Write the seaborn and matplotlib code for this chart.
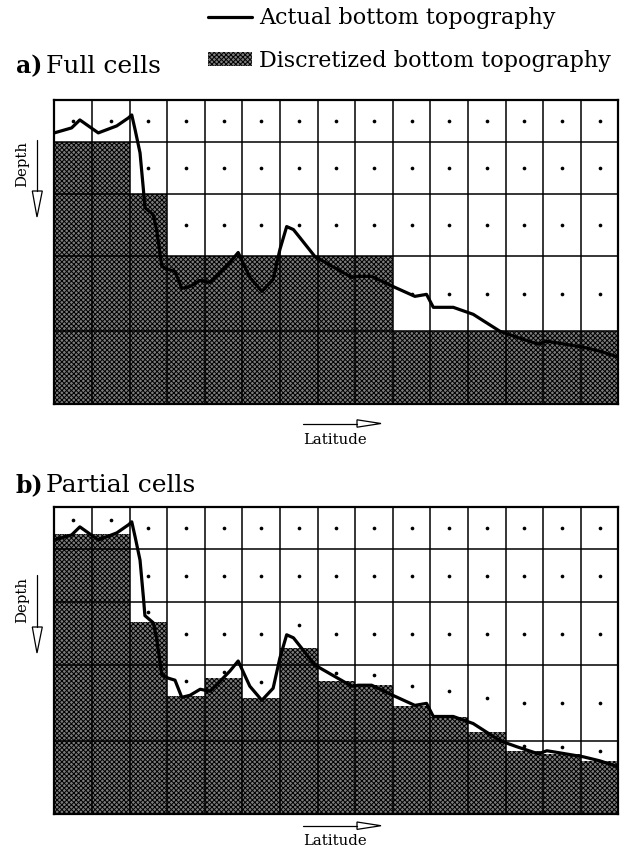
import numpy as np
import matplotlib
matplotlib.use("Agg")
import matplotlib.pyplot as plt
import seaborn as sns
from matplotlib.lines import Line2D
from matplotlib.patches import Patch, Polygon

# ---------------- data ----------------
n_cols = 15
level_edges = [0, 42, 94.5, 157, 232, 305]          # model level interfaces (depth units)
full_levels = [1, 1, 2, 3, 3, 3, 3, 3, 3, 4, 4, 4, 4, 4, 4]   # wet levels per column (full cells)
partial_depth = [27, 27, 114, 188, 170, 190, 140, 173, 177, 198, 209, 223, 242, 245, 252]
topo_x = [0.00, 0.46, 0.68, 1.17, 1.66, 1.97, 2.06, 2.15, 2.28, 2.37, 2.41, 2.63, 2.72,
          2.86, 3.03, 3.21, 3.39, 3.61, 3.88, 4.14, 4.41, 4.67, 4.89, 4.94, 5.20, 5.52,
          5.82, 6.00, 6.18, 6.36, 6.53, 6.93, 7.91, 8.09, 8.44, 9.06, 9.59, 9.90, 10.08,
          10.61, 11.14, 11.85, 12.30, 12.87, 13.10, 13.27, 14.07, 14.51, 15.00]
topo_depth = [33, 28, 20, 33, 26, 18, 15, 30, 53, 90, 108, 115, 130,
              167, 170, 172, 189, 187, 181, 183, 173, 163, 153, 157, 178, 192,
              180, 150, 127, 130, 138, 157, 178, 177, 177, 188, 197, 195, 208,
              208, 215, 232, 238, 245, 242, 243, 248, 252, 258]
panel_titles = ["a)", "b)"]
panel_names = ["Full cells", "Partial cells"]
legend_labels = ["Actual bottom topography", "Discretized bottom topography"]
x_label = "Latitude"
y_label = "Depth"

# ---------------- style ----------------
sns.set_theme(style="white")
plt.rcParams["font.family"] = ["DejaVu Serif", "Liberation Serif"]
plt.rcParams["text.color"] = "black"
plt.rcParams["hatch.color"] = "black"
plt.rcParams["hatch.linewidth"] = 0.7

LAND = "#7c7c7c"
HATCH = "xxxxxxx"
W, H = 621, 848
fig = plt.figure(figsize=(W / 100, H / 100), dpi=100)


def rect(x0, y0, x1, y1):
    return [x0 / W, 1 - y1 / H, (x1 - x0) / W, (y1 - y0) / H]


def fx(x):
    return x / W


def fy(y):
    return 1 - y / H


def draw_panel(ax, depth):
    total = level_edges[-1]
    cols = np.arange(n_cols)
    ax.bar(cols, [total - d for d in depth], bottom=depth, width=1.0, align="edge",
           color=LAND, hatch=HATCH, edgecolor="black", linewidth=0, zorder=1)
    ax.vlines(np.arange(n_cols + 1), 0, total, color="black", lw=1.1, zorder=3)
    ax.hlines(level_edges, 0, n_cols, color="black", lw=1.1, zorder=3)
    xs, ys = [], []
    for c in range(n_cols):
        for k in range(len(level_edges) - 1):
            top, bot = level_edges[k], level_edges[k + 1]
            if top < depth[c]:
                xs.append(c + 0.5)
                ys.append((top + min(bot, depth[c])) / 2)
    sns.scatterplot(x=xs, y=ys, ax=ax, color="black", s=7, linewidth=0, zorder=4)
    sns.lineplot(x=topo_x, y=topo_depth, ax=ax, sort=False, estimator=None,
                 color="black", lw=2.3, zorder=5)
    ax.set_xlim(0, n_cols)
    ax.set_ylim(total, 0)
    ax.set_xticks([])
    ax.set_yticks([])
    ax.set_xlabel("")
    ax.set_ylabel("")
    for s in ax.spines.values():
        s.set_visible(True)
        s.set_color("black")
        s.set_linewidth(1.6)
        s.set_zorder(6)


ax_a = fig.add_axes(rect(54.3, 100, 618.3, 404))
ax_b = fig.add_axes(rect(54.3, 506.7, 618.3, 814.3))
draw_panel(ax_a, [level_edges[n] for n in full_levels])
draw_panel(ax_b, partial_depth)


def panel_deco(title_base, depth_mid, arrow_top, head_top, tip, lat_y, lat_base, i):
    fig.text(fx(16), fy(title_base), panel_titles[i], fontsize=17, fontweight="bold",
             va="baseline", ha="left")
    fig.text(fx(46.5), fy(title_base), panel_names[i], fontsize=18, va="baseline", ha="left")
    # depth arrow
    fig.text(fx(22.5), fy(depth_mid), y_label, fontsize=10.7, rotation=90,
             ha="center", va="center")
    fig.add_artist(Line2D([fx(37), fx(37)], [fy(arrow_top), fy(head_top)],
                          color="black", lw=0.9))
    fig.add_artist(Polygon([(fx(32.3), fy(head_top)), (fx(42.3), fy(head_top)),
                            (fx(37), fy(tip))], closed=True, fc="white",
                           ec="black", lw=0.9))
    # latitude arrow
    fig.add_artist(Line2D([fx(303), fx(357)], [fy(lat_y), fy(lat_y)],
                          color="black", lw=0.9))
    fig.add_artist(Polygon([(fx(357), fy(lat_y - 3.7)), (fx(357), fy(lat_y + 3.7)),
                            (fx(381), fy(lat_y))], closed=True, fc="white",
                           ec="black", lw=0.9))
    fig.text(fx(335), fy(lat_base), x_label, fontsize=10.7, ha="center", va="baseline")


panel_deco(73, 164, 140, 191, 217, 423.5, 444, 0)
panel_deco(492, 600, 575, 627, 653, 825.7, 845, 1)

handles = [Line2D([0], [0], color="black", lw=2.3),
           Patch(facecolor=LAND, hatch=HATCH, edgecolor="black", linewidth=0)]
fig.legend(handles, legend_labels, loc="upper left", bbox_to_anchor=(fx(208), fy(7)),
           frameon=False, fontsize=16, handlelength=2.0, handletextpad=0.3,
           labelspacing=0.95, handleheight=0.6, borderpad=0, borderaxespad=0)

fig.savefig("out.png", dpi=100, facecolor="white")
